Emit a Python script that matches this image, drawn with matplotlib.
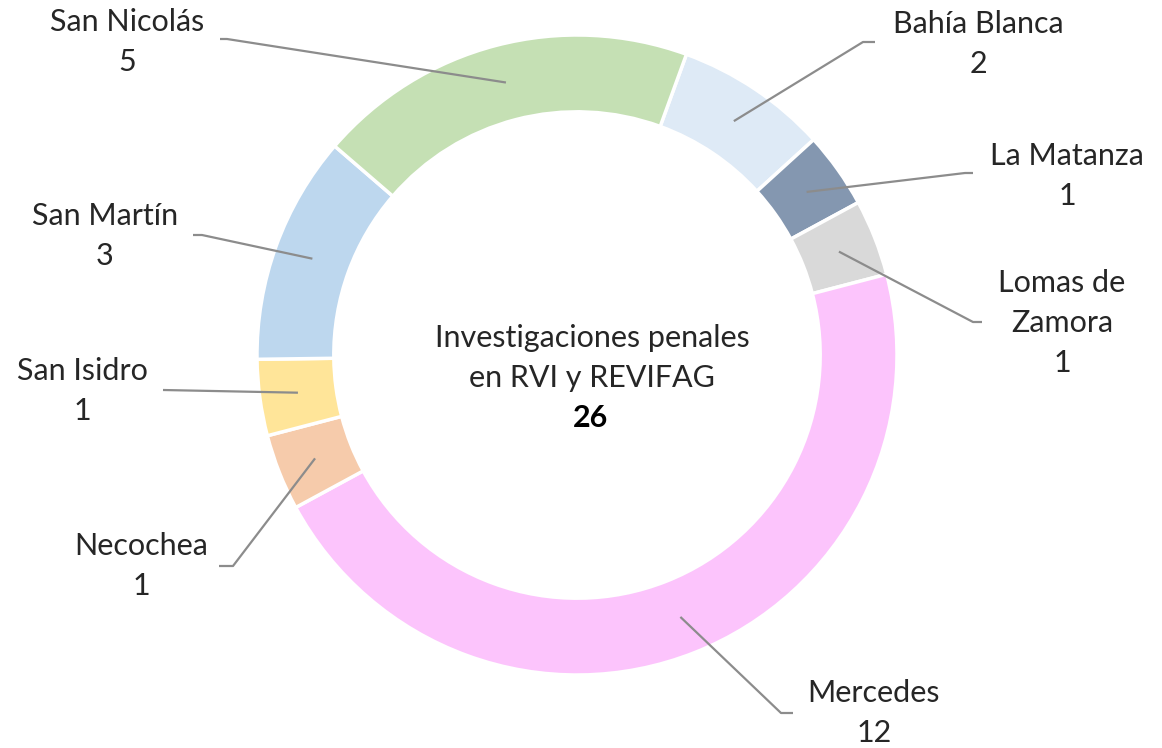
import matplotlib.pyplot as plt
import numpy as np

# datos
names = ['Bahía Blanca', 'La Matanza', 'Lomas de\nZamora', 'Mercedes',
         'Necochea', 'San Isidro', 'San Martín', 'San Nicolás']
values = [2, 1, 1, 12, 1, 1, 3, 5]
colors = ['#DEEAF6', '#8497B0', '#D9D9D9', '#FCC4FC',
          '#F6CBAB', '#FFE599', '#BDD7EE', '#C5E0B4']
center_title = 'Investigaciones penales\nen RVI y REVIFAG'

# posiciones de etiquetas (pixeles en la imagen) y codos de las lineas
label_px = [(978, 44), (1067, 176), (1062, 323), (874, 713),
            (141, 566), (82, 391), (105, 236), (127, 42)]
elbow_px = [(863, 42), (965, 173), (973, 322), (781, 713),
            (233, 566), (163, 390), (202, 235), (227, 39)]
end_px = [(875, 42), (973, 173), (982, 322), (793, 713),
          (219, 566), (163, 390), (193, 235), (220, 39)]

W, H = 1162, 748
cx, cy, R = 577, 355, 320


def to_data(p):
    return ((p[0] - cx) / R, (cy - p[1]) / R)


plt.rcParams['font.family'] = ['Lato', 'DejaVu Sans']

fig = plt.figure(figsize=(W / 100, H / 100), dpi=100)
ax = fig.add_axes([0, 0, 1, 1])
ax.pie(values, radius=1, startangle=70, counterclock=False, colors=colors,
       wedgeprops=dict(width=0.24, edgecolor='white', linewidth=2.5))
ax.set_xlim(-cx / R, (W - cx) / R)
ax.set_ylim(-(H - cy) / R, cy / R)
ax.set_aspect('equal')
ax.axis('off')

total = sum(values)
cum = np.cumsum([0] + values)
for i, name in enumerate(names):
    mid = (cum[i] + cum[i + 1]) / 2 / total * 360
    ang = np.deg2rad(70 - mid)
    ax0, ay0 = 0.88 * np.cos(ang), 0.88 * np.sin(ang)
    ex, ey = to_data(elbow_px[i])
    tx, ty = to_data(end_px[i])
    ax.plot([ax0, ex, tx], [ay0, ey, ty], color='#8C8C8C', lw=1.6,
            solid_capstyle='butt')
    lx, ly = to_data(label_px[i])
    ax.text(lx, ly, f'{name}\n{values[i]}', ha='center', va='center',
            fontsize=22, color='#262626', linespacing=1.5)

tx, ty = to_data((592, 358))
ax.text(tx, ty, center_title, ha='center', va='center', fontsize=22,
        color='#262626', linespacing=1.5)
tx, ty = to_data((590, 418))
ax.text(tx, ty, str(total), ha='center', va='center', fontsize=22,
        color='#000000', fontweight='bold')

fig.savefig('out.png', dpi=100)
